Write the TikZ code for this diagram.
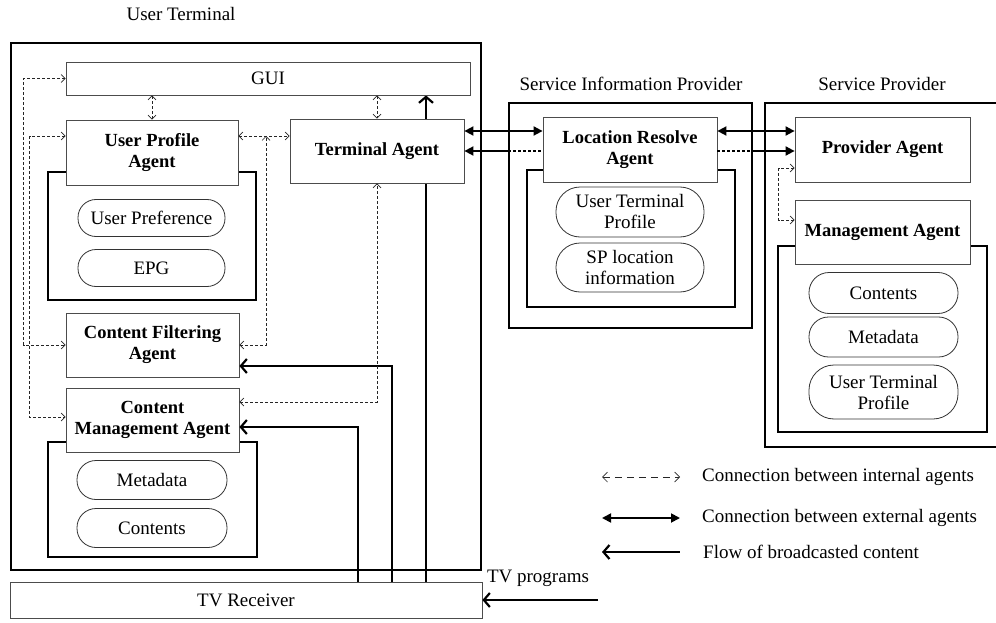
\documentclass[tikz,border=0pt]{standalone}
\usepackage{fontspec}
\setmainfont{Liberation Serif}
\usetikzlibrary{arrows.meta}
\pgfdeclarelayer{bg}
\pgfsetlayers{bg,main}
\begin{document}
\begin{tikzpicture}[x=1pt,y=-1pt,
  agent/.style={draw=black!70, line width=0.8pt, fill=white, align=center, inner sep=0pt,
    font=\bfseries\fontsize{18.5}{21}\selectfont},
  plainbox/.style={draw=black!70, line width=0.8pt, fill=white, align=center, inner sep=0pt,
    font=\fontsize{19}{21}\selectfont},
  pill/.style={draw=black!80, line width=0.8pt, fill=white, rounded corners=#1, align=center,
    inner sep=0pt, font=\fontsize{19}{21}\selectfont},
  frame/.style={draw=black, line width=1.7pt, inner sep=0pt},
  lbl/.style={font=\fontsize{19}{21}\selectfont, inner sep=0pt},
  intl/.style={draw=black!85, line width=0.7pt, dash pattern=on 3pt off 2pt,
    >={Straight Barb[length=4pt,width=8pt]}, <->},
  extl/.style={draw=black, line width=1.8pt, >={Triangle[length=9pt,width=9pt]}},
  extdot/.style={draw=black, line width=1.8pt, dash pattern=on 3pt off 2pt},
  flow/.style={draw=black, line width=2.2pt, >={Straight Barb[length=6pt,width=14pt]}, ->}
]
\useasboundingbox (0,0) rectangle (996,623);

% level coordinates
\coordinate (y80) at (0,80);
\coordinate (y131) at (0,131);
\coordinate (y136) at (0,136);
\coordinate (y151) at (0,151);
\coordinate (y168) at (0,168);
\coordinate (y220) at (0,220);
\coordinate (y366) at (0,366);
\coordinate (y402) at (0,402);
\coordinate (y417) at (0,417);
\coordinate (y427) at (0,427);
\coordinate (x358) at (358,0);
\coordinate (x392) at (392,0);
\coordinate (x426) at (426,0);
\coordinate (j1) at (266,136);

\begin{pgfonlayer}{bg}
  \node[frame, minimum width=470pt, minimum height=527pt] (utbox) at (246,306.5) {};
  \node[frame, minimum width=208pt, minimum height=128pt] (upacont) at (152,236) {};
  \node[frame, minimum width=209pt, minimum height=115pt] (cmacont) at (152.5,499.5) {};
  \node[frame, minimum width=243pt, minimum height=225pt] (sipbox) at (630.5,215.5) {};
  \node[frame, minimum width=208pt, minimum height=137pt] (sipcont) at (631,238.5) {};
  \node[frame, minimum width=209pt, minimum height=186pt] (spcont) at (882.5,339) {};
  \draw[frame] (996,103) -- (765,103) -- (765,447) -- (996,447);
\end{pgfonlayer}

% labels
\node[lbl] (utlbl) at (181,14) {User Terminal};
\node[lbl] (siplbl) at (631,84) {Service Information Provider};
\node[lbl] (splbl) at (882,84) {Service Provider};

% user terminal
\node[plainbox, minimum width=404pt, minimum height=33pt] (gui) at (268,78.5) {GUI};
\node[agent, minimum width=172pt, minimum height=65pt] (upa) at (152,152.5) {User Profile\\Agent};
\node[agent, minimum width=174pt, minimum height=64pt] (ta) at (377,151) {Terminal Agent};
\node[pill=18pt, minimum width=147pt, minimum height=37pt] (upref) at (151.5,218) {User Preference};
\node[pill=18pt, minimum width=147pt, minimum height=37pt] (epg) at (151.5,268) {EPG};
\node[agent, minimum width=173pt, minimum height=64pt] (cfa) at (152.5,345) {Content Filtering\\Agent};
\node[agent, minimum width=173pt, minimum height=64pt] (cma) at (152.5,420) {Content\\Management Agent};
\node[pill=19pt, minimum width=150pt, minimum height=39pt] (meta1) at (152,480) {Metadata};
\node[pill=19pt, minimum width=150pt, minimum height=39pt] (cont1) at (152,528) {Contents};
\node[plainbox, minimum width=472pt, minimum height=36pt] (tvr) at (246,600) {TV Receiver};

% service information provider
\node[agent, minimum width=174pt, minimum height=65pt] (lra) at (630,149.5) {Location Resolve\\Agent};
\node[pill=24pt, minimum width=148pt, minimum height=50pt] (utp1) at (630,212) {User Terminal\\Profile};
\node[pill=24pt, minimum width=148pt, minimum height=49pt] (spl) at (630,267.5) {SP location\\information};

% service provider
\node[agent, minimum width=175pt, minimum height=65pt] (pa) at (882.5,149.5) {Provider Agent};
\node[agent, minimum width=175pt, minimum height=64pt] (ma) at (882.5,232.5) {Management Agent};
\node[pill=20pt, minimum width=149pt, minimum height=41pt] (cont2) at (883.5,293) {Contents};
\node[pill=19.5pt, minimum width=149pt, minimum height=40pt] (meta2) at (883.5,337) {Metadata};
\node[pill=25pt, minimum width=149pt, minimum height=54pt] (utp2) at (883.5,392) {User Terminal\\Profile};

% flow of broadcasted content
\begin{pgfonlayer}{bg}
  \draw[flow] (tvr.north -| x426) -- (gui.south -| x426);
\end{pgfonlayer}
\draw[flow] (tvr.north -| x392) |- (cfa.east |- y366);
\draw[flow] (tvr.north -| x358) |- (cma.east |- y427);
\coordinate (tvsrc) at (598,600);
\node[lbl] (tvplbl) at (538,578) {TV programs};
\draw[flow] (tvsrc) -- (tvr.east);

% internal connections
\draw[intl] (upa.north |- gui.south) -- (upa.north);
\draw[intl] (ta.north |- gui.south) -- (ta.north);
\draw[intl] (upa.east |- y136) -- (ta.west |- y136);
\draw[intl] (cfa.east) -| (j1);
\draw[intl] (cma.east |- y402) -| (ta.south);
\draw[intl] (gui.west) -- ++(-42,0) |- (cfa.west);
\draw[intl] (upa.west |- y136) -- ++(-36,0) |- (cma.west |- y417);
\draw[intl] (pa.west |- y168) -- ++(-16,0) |- (ma.west |- y220);

% external connections
\draw[extl, <->] (ta.east |- y131) -- (lra.west |- y131);
\draw[extl, <->] (lra.east |- y131) -- (pa.west |- y131);
\draw[extl, <-] (ta.east |- y151) -- (sipbox.west |- y151);
\draw[extdot] (sipbox.west |- y151) -- (lra.west |- y151);
\draw[extdot] (lra.east |- y151) -- (sipbox.east |- y151);
\draw[extl, ->] (sipbox.east |- y151) -- (pa.west |- y151);

% legend
\coordinate (lg1a) at (602,477); \coordinate (lg1b) at (680,477);
\coordinate (lg2a) at (602,518); \coordinate (lg2b) at (680,518);
\coordinate (lg3a) at (602,552); \coordinate (lg3b) at (680,552);
\draw[intl, dash pattern=on 7pt off 5pt, >={Straight Barb[length=5pt,width=10pt]}] (lg1a) -- (lg1b);
\draw[extl, <->] (lg2a) -- (lg2b);
\draw[flow, <-] (lg3a) -- (lg3b);
\node[lbl, anchor=west] (lgt1) at (702,477) {Connection between internal agents};
\node[lbl, anchor=west] (lgt2) at (702,518) {Connection between external agents};
\node[lbl, anchor=west] (lgt3) at (703,552) {Flow of broadcasted content};
\end{tikzpicture}
\end{document}
